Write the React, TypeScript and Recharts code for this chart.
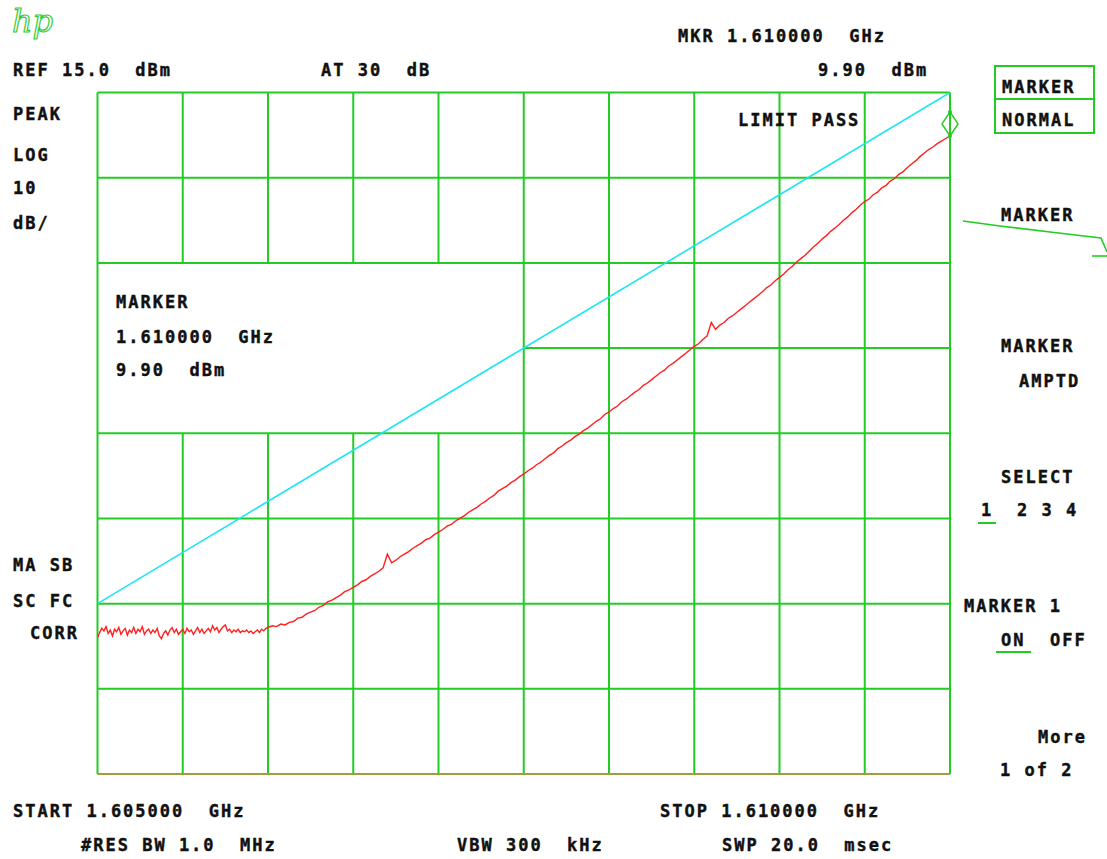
import React from "react";
import { LineChart, Line, XAxis, YAxis, ReferenceLine, ReferenceDot } from "recharts";

// ---- data ----
const START_MHZ = 1605;
const STOP_MHZ = 1610;
const REF_LEVEL = 15;
const BOTTOM_LEVEL = -65;

// noise floor section, 1605.0 .. 1606.0 MHz, 12.5 kHz spacing (dBm)
const noiseFloor = [
  -49.0, -48.4, -47.9, -48.2, -47.7, -48.5, -48.1, -48.8, -48.0, -48.3,
  -47.8, -48.6, -48.2, -47.9, -48.7, -48.1, -48.4, -47.8, -48.5, -48.0,
  -48.3, -47.7, -48.6, -48.2, -48.0, -48.5, -48.1, -48.4, -47.9, -48.8,
  -49.1, -48.5, -48.2, -48.7, -48.1, -47.8, -48.4, -48.0, -48.6, -48.3,
  -48.0, -48.5, -47.9, -48.3, -48.1, -48.6, -48.2, -47.8, -48.4, -48.0,
  -48.5, -48.2, -47.9, -48.3, -47.6, -48.1, -47.8, -48.4, -48.0, -47.7,
  -47.5, -48.2, -48.0, -48.4, -48.1, -48.3, -48.0, -48.4, -48.2, -48.3,
  -48.1, -48.4, -48.2, -48.5, -48.3, -48.1, -48.4, -48.0, -48.2, -47.9,
  -47.8,
];

// rising section, 1606.025 .. 1610.0 MHz, 25 kHz spacing (dBm)
const risingTrace = [
  -47.6, -47.7, -47.4, -47.5, -47.2, -47.1, -46.7, -46.6, -46.2, -46.0,
  -45.8, -45.4, -45.2, -44.8, -44.6, -44.3, -44.0, -43.6, -43.4, -43.1,
  -42.8, -42.4, -42.2, -41.8, -41.5, -41.2, -40.8, -39.2, -40.2, -39.9,
  -39.5, -39.2, -38.9, -38.5, -38.2, -37.9, -37.5, -37.3, -36.9, -36.6,
  -36.3, -35.9, -35.7, -35.3, -35.0, -34.7, -34.3, -34.0, -33.7, -33.3,
  -33.0, -32.6, -32.3, -31.8, -31.5, -31.2, -30.8, -30.5, -30.1, -29.8,
  -29.4, -29.1, -28.7, -28.4, -28.0, -27.6, -27.3, -26.8, -26.5, -26.1,
  -25.8, -25.4, -25.1, -24.7, -24.4, -24.0, -23.6, -23.3, -22.8, -22.5,
  -22.1, -21.8, -21.3, -21.0, -20.6, -20.2, -19.9, -19.4, -19.1, -18.7,
  -18.3, -17.9, -17.6, -17.1, -16.8, -16.4, -16.0, -15.6, -15.2, -14.8,
  -14.5, -14.0, -13.6, -12.0, -12.8, -12.3, -12.0, -11.5, -11.2, -10.8,
  -10.4, -10.0, -9.6, -9.2, -8.8, -8.4, -7.9, -7.6, -7.1, -6.7,
  -6.3, -5.8, -5.4, -4.9, -4.5, -4.1, -3.6, -3.1, -2.7, -2.2,
  -1.8, -1.3, -0.9, -0.5, 0.0, 0.4, 0.9, 1.3, 1.8, 2.2,
  2.5, 3.0, 3.3, 3.8, 4.1, 4.6, 4.9, 5.4, 5.7, 6.2,
  6.6, 7.0, 7.5, 7.9, 8.3, 8.6, 9.0, 9.3, 9.6, 9.9,
];

// limit line endpoints
const limitFreqs = [1605, 1610];
const limitLevels = [-45, 15];

// marker
const markerFreq = 1610;
const markerLevel = 9.9;

// graticule
const freqGrid = [1605, 1605.5, 1606, 1606.5, 1607, 1607.5, 1608, 1608.5, 1609, 1609.5, 1610];
const levelGrid = [15, 5, -5, -15, -25, -35, -45, -55, -65];
// annotation window (freq range / level range) where graticule is blanked
const windowFreq = [1605, 1607.5];
const windowLevel = [-25, -5];

// ---- derived tables for the library ----
const traceData = [
  ...noiseFloor.map((v, i) => ({ f: START_MHZ + i * 0.0125, v })),
  ...risingTrace.map((v, i) => ({ f: 1606 + (i + 1) * 0.025, v })),
];
const limitData = limitFreqs.map((f, i) => ({ f, v: limitLevels[i] }));

type Seg = { a: { x: number; y: number }; b: { x: number; y: number }; c: string };
const GREEN = "#22cc22";
const OLIVE = "#a39b3c";
const gridSegs: Seg[] = [];
freqGrid.forEach((f) => {
  if (f > windowFreq[0] && f < windowFreq[1]) {
    gridSegs.push({ a: { x: f, y: BOTTOM_LEVEL }, b: { x: f, y: windowLevel[0] }, c: GREEN });
    gridSegs.push({ a: { x: f, y: windowLevel[1] }, b: { x: f, y: REF_LEVEL }, c: GREEN });
  } else {
    gridSegs.push({ a: { x: f, y: BOTTOM_LEVEL }, b: { x: f, y: REF_LEVEL }, c: GREEN });
  }
});
levelGrid.forEach((l) => {
  if (l > windowLevel[0] && l < windowLevel[1]) {
    gridSegs.push({ a: { x: windowFreq[1], y: l }, b: { x: STOP_MHZ, y: l }, c: GREEN });
  } else {
    gridSegs.push({ a: { x: START_MHZ, y: l }, b: { x: STOP_MHZ, y: l }, c: l === BOTTOM_LEVEL ? OLIVE : GREEN });
  }
});

// screen annotations
const labels: { t: string; x: number; y: number }[] = [
  { t: "REF 15.0  dBm", x: 13, y: 70 },
  { t: "AT 30  dB", x: 321, y: 70 },
  { t: "MKR 1.610000  GHz", x: 678, y: 36 },
  { t: "9.90  dBm", x: 818, y: 70 },
  { t: "PEAK", x: 13, y: 114 },
  { t: "LOG", x: 13, y: 155 },
  { t: "10", x: 13, y: 188 },
  { t: "dB/", x: 13, y: 223 },
  { t: "LIMIT PASS", x: 738, y: 120 },
  { t: "MARKER", x: 1002, y: 87 },
  { t: "NORMAL", x: 1002, y: 120 },
  { t: "MARKER", x: 1001, y: 215 },
  { t: "MARKER", x: 1001, y: 346 },
  { t: "AMPTD", x: 1019, y: 381 },
  { t: "SELECT", x: 1001, y: 477 },
  { t: "1", x: 981, y: 510 },
  { t: "2 3 4", x: 1017, y: 510 },
  { t: "MARKER 1", x: 964, y: 606 },
  { t: "ON", x: 1001, y: 640 },
  { t: "OFF", x: 1050, y: 640 },
  { t: "More", x: 1038, y: 737 },
  { t: "1 of 2", x: 1000, y: 770 },
  { t: "MA SB", x: 13, y: 565 },
  { t: "SC FC", x: 13, y: 601 },
  { t: "CORR", x: 30, y: 633 },
  { t: "MARKER", x: 116, y: 302 },
  { t: "1.610000  GHz", x: 116, y: 337 },
  { t: "9.90  dBm", x: 116, y: 370 },
  { t: "START 1.605000  GHz", x: 13, y: 811 },
  { t: "STOP 1.610000  GHz", x: 660, y: 811 },
  { t: "#RES BW 1.0  MHz", x: 81, y: 845 },
  { t: "VBW 300  kHz", x: 457, y: 845 },
  { t: "SWP 20.0  msec", x: 722, y: 845 },
];

const MarkerShape = (props: any) => {
  const { cx, cy } = props;
  if (cx == null || cy == null) return <g />;
  const top = cy - 24;
  const mid = cy - 12;
  return (
    <g>
      <polygon
        points={`${cx},${top} ${cx + 8},${mid} ${cx},${cy} ${cx - 8},${mid}`}
        fill="none"
        stroke={GREEN}
        strokeWidth={1.5}
      />
      <circle cx={cx} cy={top} r={2} fill={GREEN} />
      <circle cx={cx} cy={cy} r={2} fill={GREEN} />
    </g>
  );
};

export default function App() {
  return (
    <div style={{ position: "absolute", left: 0, top: 0, width: 1107, height: 859, background: "#fff", overflow: "hidden" }}>
      <div style={{ position: "absolute", left: 0, top: 0 }}>
        <LineChart width={1107} height={859} margin={{ top: 92.5, right: 157, bottom: 85, left: 97.5 }}>
          <XAxis dataKey="f" type="number" domain={[START_MHZ, STOP_MHZ]} hide allowDataOverflow />
          <YAxis type="number" domain={[BOTTOM_LEVEL, REF_LEVEL]} hide allowDataOverflow />
          {gridSegs.map((s, i) => (
            <ReferenceLine key={"g" + i} segment={[s.a, s.b]} stroke={s.c} strokeWidth={2} ifOverflow="visible" />
          ))}
          <Line
            data={limitData}
            dataKey="v"
            type="linear"
            stroke="#1ee6f0"
            strokeWidth={1.6}
            dot={false}
            isAnimationActive={false}
          />
          <Line
            data={traceData}
            dataKey="v"
            type="linear"
            stroke="#ff2020"
            strokeWidth={1.4}
            dot={false}
            isAnimationActive={false}
          />
          <ReferenceDot x={markerFreq} y={markerLevel} r={8} shape={MarkerShape} ifOverflow="visible" />
        </LineChart>
      </div>
      <svg width={1107} height={859} style={{ position: "absolute", left: 0, top: 0, pointerEvents: "none" }}>
        <text x={12} y={32} fontFamily="'DejaVu Serif', serif" fontStyle="italic" fontSize={32} fill="none" stroke="#33cc33" strokeWidth={1.2}>
          hp
        </text>
        <rect x={995} y={66} width={99} height={67} fill="none" stroke={GREEN} strokeWidth={2} />
        <line x1={995} y1={99} x2={1094} y2={99} stroke={GREEN} strokeWidth={2} />
        <polyline points="963,221 1000,226 1050,232 1101,238 1107,252" fill="none" stroke={GREEN} strokeWidth={1.6} />
        <line x1={1092} y1={256} x2={1107} y2={256} stroke={GREEN} strokeWidth={1.6} />
        <line x1={978} y1={523} x2={996} y2={523} stroke={GREEN} strokeWidth={2} />
        <line x1={996} y1={652} x2={1031} y2={652} stroke={GREEN} strokeWidth={2} />
      </svg>
      {labels.map((l, i) => (
        <div
          key={"t" + i}
          style={{
            position: "absolute",
            left: l.x,
            top: l.y - 8.5,
            fontFamily: "'DejaVu Sans Mono', monospace",
            fontWeight: 700,
            fontSize: 17,
            lineHeight: "17px",
            letterSpacing: 2,
            color: "#111",
            whiteSpace: "pre",
            WebkitTextStroke: "0.4px #111",
          }}
        >
          {l.t}
        </div>
      ))}
    </div>
  );
}
